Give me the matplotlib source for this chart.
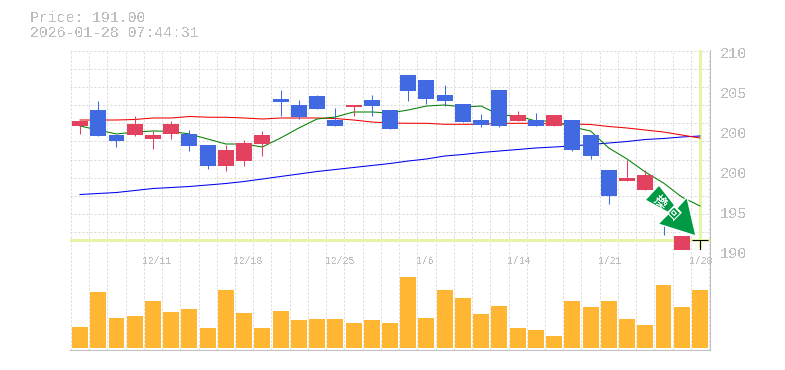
import matplotlib
matplotlib.use('Agg')
import matplotlib.pyplot as plt
from matplotlib.patches import Polygon

plt.rcParams['font.family'] = ['Liberation Mono', 'Noto Sans CJK JP', 'DejaVu Sans']
plt.rcParams['text.antialiased'] = False

# candles, oldest first
opens = [202.4, 204.0, 201.5, 201.5, 201.1, 201.6, 201.6, 200.5, 198.4, 198.9, 200.6, 205.1, 204.5, 205.4, 203.0, 204.3,
         205.0, 204.0, 207.5, 207.0, 205.5, 204.6, 203.0, 206.0, 202.9, 203.0, 202.4, 203.0, 201.5, 198.0, 196.9, 196.0,
         195.0, 190.0, 191.0]
closes = [202.9, 201.4, 200.9, 202.6, 201.5, 202.6, 200.4, 198.4, 200.0, 200.7, 201.5, 204.8, 203.3, 204.1, 202.4, 204.5,
          204.4, 202.1, 205.9, 205.1, 204.9, 202.8, 202.5, 202.4, 203.5, 202.4, 203.5, 200.0, 199.4, 195.4, 197.2, 197.5,
          194.5, 191.4, 191.0]
highs = [202.9, 204.9, 201.5, 203.4, 201.9, 202.9, 202.0, 200.5, 200.5, 201.0, 201.9, 206.0, 205.0, 205.5, 204.2, 204.5,
         205.5, 204.0, 207.5, 207.0, 206.5, 204.6, 203.6, 206.0, 203.9, 203.7, 203.5, 203.0, 201.5, 198.0, 199.0, 198.0,
         195.0, 191.4, 191.0]
lows = [201.6, 201.4, 200.3, 201.4, 200.1, 201.1, 199.9, 198.1, 197.9, 198.4, 199.4, 203.4, 203.1, 204.1, 202.4, 203.4,
        203.4, 202.1, 204.9, 204.6, 204.4, 202.8, 202.3, 202.3, 202.9, 202.4, 202.4, 199.9, 199.1, 194.6, 196.9, 196.0,
        191.5, 190.0, 190.0]
volumes = [21, 56, 30, 32, 47, 36, 39, 20, 58, 35, 20, 37, 28, 29, 29, 25, 28, 25, 71, 30, 58, 50, 34, 42, 20, 18, 12,
           47, 41, 47, 29, 23, 63, 41, 58]

ma_green = [202.4, 202.0, 201.6, 201.8, 201.9, 201.87, 201.6, 201.1, 200.6, 200.6, 200.3, 201.2, 202.2, 203.1, 203.3, 203.8,
            203.8, 203.7, 204.0, 204.4, 204.5, 204.3, 204.4, 203.5, 203.4, 202.9, 202.9, 202.3, 201.9, 200.2, 199.1, 197.8,
            196.7, 195.3, 194.4]
ma_red = [203.0, 203.0, 203.0, 203.05, 203.2, 203.2, 203.35, 203.28, 203.27, 203.2, 203.1, 203.2, 203.2, 203.2, 203.15, 203.0,
          202.8, 202.7, 202.67, 202.67, 202.57, 202.57, 202.57, 202.67, 202.67, 202.67, 202.6, 202.6, 202.55, 202.35, 202.2,
          202.0, 201.8, 201.5, 201.2]
ma_blue = [195.55, 195.65, 195.75, 195.95, 196.15, 196.25, 196.35, 196.5, 196.65, 196.85, 197.1, 197.35, 197.6, 197.85,
           198.05, 198.25, 198.45, 198.65, 198.9, 199.1, 199.4, 199.55, 199.75, 199.9, 200.05, 200.2, 200.3, 200.4, 200.55,
           200.7, 200.85, 201.05, 201.15, 201.3, 201.4]

price_labels = ['210', '205', '200', '200', '195', '190']
price_label_pos = [210, 206, 202, 198, 194, 190]
date_labels = ['12/11', '12/18', '12/25', '1/6', '1/14', '1/21', '1/28']
date_pos = [4, 9, 14, 19, 24, 29, 34]
last_price = 191.0

up_col = '#e2425f'
down_col = '#4169e1'
grid_col = '#d9d9d9'
frame_col = '#c0c0c0'
hl_col = '#e4f5a9'
text_col = '#bdbdbd'

n = len(closes)
xs = list(range(n))
W, H = 785, 370

fig = plt.figure(figsize=(7.85, 3.70), dpi=100)
ax = fig.add_axes([70 / W, (H - 250) / H, 640 / W, 200 / H])
ax2 = fig.add_axes([70 / W, (H - 350) / H, 640 / W, 100 / H])

for a in (ax, ax2):
    a.set_xlim(-0.55, 34.55)
    a.set_xticks([i - 0.5 for i in xs] + [n - 0.5])
    a.tick_params(length=0, labelbottom=False, labelleft=False)
    a.grid(axis='x', color=grid_col, lw=0.72, ls=(0, (2, 2)))
    a.set_axisbelow(True)
    for s in ('top', 'left'):
        a.spines[s].set_visible(False)
    for s in ('bottom', 'right'):
        a.spines[s].set_color(frame_col)
        a.spines[s].set_linewidth(0.75)

ax.set_ylim(190, 210)
ax.set_yticks([190 + 1.81 * i for i in range(12)])
ax.grid(axis='y', color=grid_col, lw=0.72, ls=(0, (2, 2)))

ax.axhline(last_price, color=hl_col, lw=2.2, zorder=1)
ax.axvline(xs[-1], color=hl_col, lw=2.2, zorder=1)

ax.plot(xs, ma_blue, color='#0000ee', lw=0.75, zorder=2)
ax.plot(xs, ma_red, color='#f00000', lw=0.75, zorder=2)
ax.plot(xs, ma_green, color='#008000', lw=0.75, zorder=2)

for i in xs:
    col = up_col if closes[i] > opens[i] else down_col
    if opens[i] == closes[i]:
        col = 'black'
    ax.vlines(i, lows[i], highs[i], color=col, lw=0.75, zorder=3)
    if opens[i] == closes[i]:
        ax.hlines(closes[i], i - 0.44, i + 0.44, color=col, lw=0.75, zorder=3)
    else:
        ax.bar(i, abs(closes[i] - opens[i]), bottom=min(opens[i], closes[i]), width=0.877, color=col, zorder=3)

# signal arrow over the candles, outline in figure pixels, white notch behind it
notch_px = [(648, 202), (669, 213), (658, 224)]
arrow_px = [(645, 200), (659, 185), (677, 208), (687, 197), (696, 236), (658, 224), (669, 213)]
notch = Polygon([(x, H - y) for x, y in notch_px], closed=True, transform=None, facecolor='white', lw=0, zorder=4)
arrow = Polygon([(x, H - y) for x, y in arrow_px], closed=True, transform=None, facecolor='#009944', edgecolor='white',
                lw=1, zorder=5)
fig.add_artist(notch)
fig.add_artist(arrow)
fig.text(660 / W, 1 - 202 / H, '換', color='white', fontsize=9.5, rotation=-45, ha='center', va='center',
         family='Noto Sans CJK JP', fontweight='bold', zorder=6)
fig.text(672 / W, 1 - 214 / H, '回', color='white', fontsize=9.5, rotation=-45, ha='center', va='center',
         family='Noto Sans CJK JP', fontweight='bold', zorder=6)

ax2.bar(xs, volumes, width=0.877, color='#ffb733', zorder=2)
ax2.set_ylim(-2, 98)

for lab, p in zip(price_labels, price_label_pos):
    ax.annotate(lab, xy=(1, p), xycoords=('axes fraction', 'data'), xytext=(10, -4), textcoords='offset pixels',
                va='center', ha='left', color=text_col, fontsize=11, annotation_clip=False)
for lab, p in zip(date_labels, date_pos):
    ax2.annotate(lab, xy=(p, 1), xycoords=('data', 'axes fraction'), xytext=(-10.5, -6), textcoords='offset pixels',
                 va='top', ha='left', color=text_col, fontsize=7, annotation_clip=False)

fig.text(30 / W, 1 - 18 / H, 'Price: 191.00', color=text_col, fontsize=10.7, va='center', ha='left')
fig.text(30 / W, 1 - 33 / H, '2026-01-28 07:44:31', color=text_col, fontsize=10.7, va='center', ha='left')

fig.savefig('out.png', dpi=100)
